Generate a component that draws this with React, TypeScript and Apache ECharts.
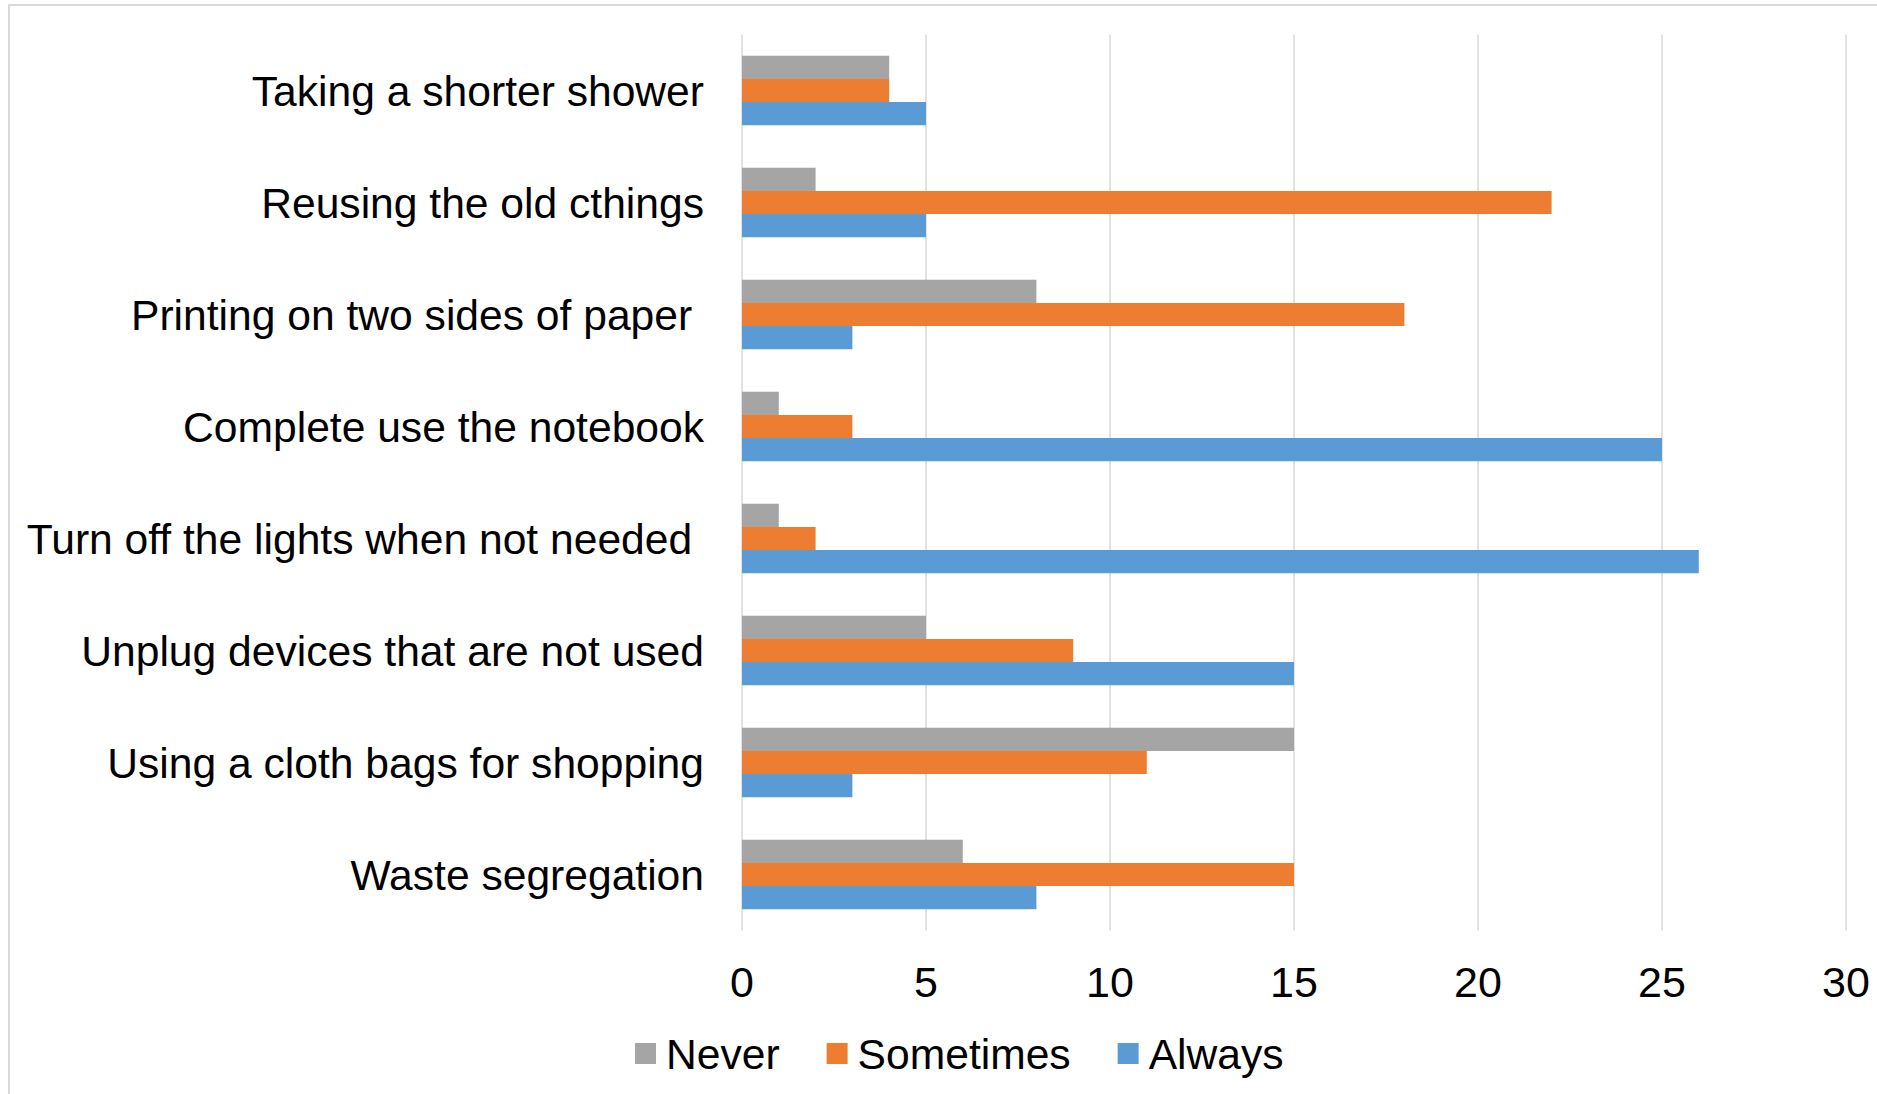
import React, { useEffect, useRef } from "react";
import * as echarts from "echarts";

const categories = [
  "Taking a shorter shower",
  "Reusing the old cthings",
  "Printing on two sides of paper ",
  "Complete use the notebook",
  "Turn off the lights when not needed ",
  "Unplug devices that are not used",
  "Using a cloth bags for shopping",
  "Waste segregation",
];
const never = [4, 2, 8, 1, 1, 5, 15, 6];
const sometimes = [4, 22, 18, 3, 2, 9, 11, 15];
const always = [5, 5, 3, 25, 26, 15, 3, 8];
const seriesNames = ["Never", "Sometimes", "Always"];
const colors = ["#a5a5a5", "#ed7d31", "#5b9bd5"];

const FONT = "'Liberation Sans', Arial, sans-serif";

export default function App() {
  const ref = useRef<HTMLDivElement>(null);
  useEffect(() => {
    if (!ref.current) return;
    const chart = echarts.init(ref.current, null, { renderer: "svg" });
    const data = [never, sometimes, always];
    chart.setOption({
      animation: false,
      backgroundColor: "#ffffff",
      textStyle: { fontFamily: FONT },
      graphic: [
        {
          type: "rect",
          shape: { x: 9, y: 5, width: 1900, height: 1100 },
          style: { fill: "none", stroke: "#d9d9d9", lineWidth: 2 },
          silent: true,
        },
      ],
      grid: { left: 742, right: 31, top: 34.5, height: 896, containLabel: false },
      legend: {
        bottom: 14,
        left: 630,
        itemWidth: 21,
        itemHeight: 21,
        itemGap: 47,
        icon: "rect",
        textStyle: { fontSize: 42.6, color: "#000", fontFamily: FONT, padding: [0, 0, 0, 5] },
        data: seriesNames,
      },
      xAxis: {
        type: "value",
        min: 0,
        max: 30,
        interval: 5,
        axisLine: { show: false },
        axisTick: { show: false },
        splitLine: { show: true, lineStyle: { color: "#d9d9d9", width: 1.5 } },
        axisLabel: { fontSize: 43, color: "#000", margin: 30, fontFamily: FONT },
      },
      yAxis: {
        type: "category",
        inverse: true,
        data: categories,
        axisLine: { show: false },
        axisTick: { show: false },
        axisLabel: { fontSize: 42.6, color: "#000", margin: 38, fontFamily: FONT },
      },
      series: seriesNames.map((name, i) => ({
        name,
        type: "bar",
        data: data[i],
        barGap: "0%",
        barCategoryGap: "38%",
        itemStyle: { color: colors[i] },
      })),
    });
    return () => chart.dispose();
  }, []);
  return (
    <div
      ref={ref}
      style={{ position: "fixed", left: 0, top: 0, width: 1877, height: 1094, background: "#fff" }}
    />
  );
}
